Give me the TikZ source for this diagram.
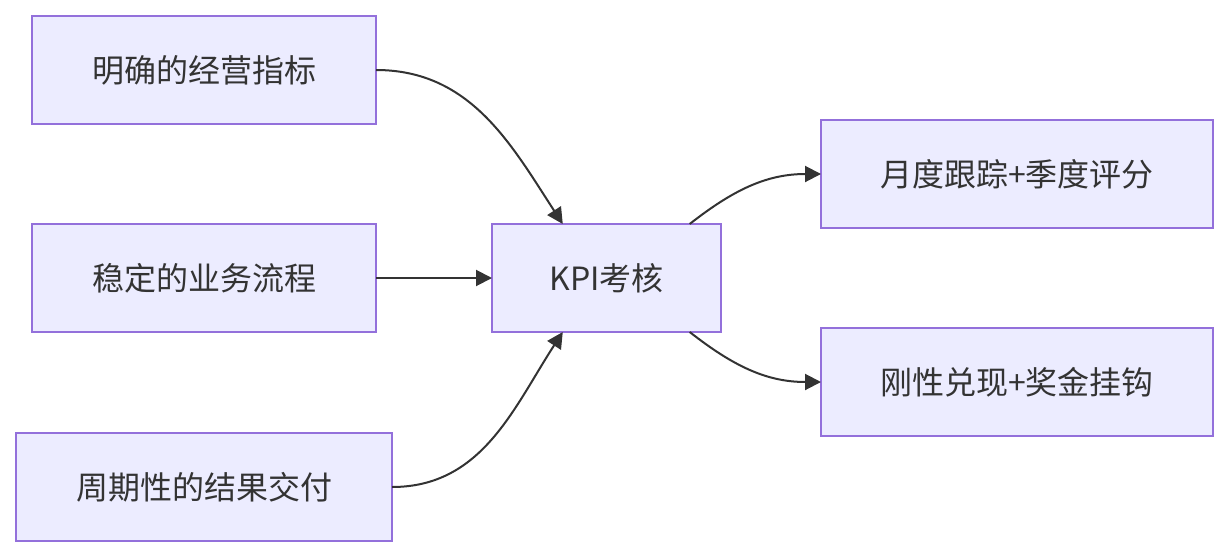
\documentclass[tikz,border=0pt]{standalone}
\usepackage{fontspec}
\setmainfont{Noto Sans CJK SC}
\usepackage{xcolor}
\usepackage{tikz}
\usetikzlibrary{arrows.meta, positioning}

\definecolor{boxfill}{HTML}{ECECFF}
\definecolor{boxline}{HTML}{9370DB}
\definecolor{edgeline}{HTML}{333333}

\begin{document}
\begin{tikzpicture}[
    node distance=50pt,
    box/.style={rectangle, draw=boxline, fill=boxfill, line width=1pt, outer sep=0pt, minimum height=54pt,
        text=edgeline, font=\fontsize{16pt}{19pt}\selectfont},
    arr/.style={-{Triangle[length=8pt, width=8pt]}, line width=1pt, draw=edgeline},
]
\useasboundingbox (0,0) rectangle (614.5pt,-278pt);

\node[box, minimum width=172pt] (goals) at (102pt,-35pt) {明确的经营指标};
\node[box, minimum width=172pt, below=of goals] (process) {稳定的业务流程};
\node[box, minimum width=188pt, below=50.5pt of process] (delivery) {周期性的结果交付};
\node[box, minimum width=114.5pt, right=58pt of process] (kpi) {KPI考核};
\node[box, minimum width=196pt, right=of kpi, yshift=52pt] (track) {月度跟踪+季度评分};
\node[box, minimum width=196pt, right=of kpi, yshift=-52pt] (reward) {刚性兑现+奖金挂钩};

\draw[arr] (goals.east) to[out=0, in=123] (kpi.129);
\draw[arr] (process) -- (kpi);
\draw[arr] (delivery.east) to[out=0, in=237] (kpi.231);
\draw[arr] (kpi.33) to[out=38, in=180] (track.west);
\draw[arr] (kpi.327) to[out=-38, in=180] (reward.west);

\end{tikzpicture}
\end{document}
